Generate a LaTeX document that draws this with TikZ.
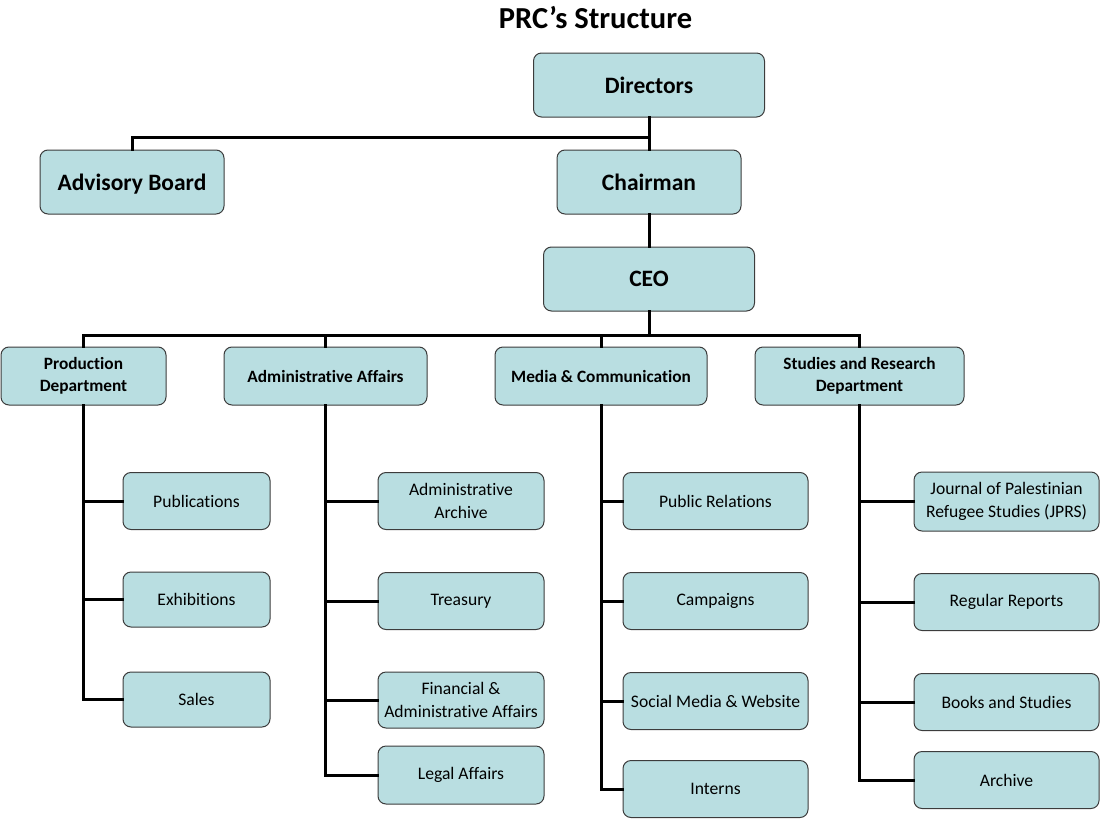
\documentclass[tikz,border=0pt]{standalone}
\usepackage{fontspec}
\setmainfont{Carlito}[Ligatures={NoCommon}]
\definecolor{boxfill}{RGB}{185,222,225}
\definecolor{boxline}{RGB}{60,60,60}
\begin{document}
\begin{tikzpicture}[x=1pt,y=-1pt,
  box/.style={draw=boxline,line width=1pt,fill=boxfill,rounded corners=8pt,
    align=center,inner sep=0pt,anchor=center},
  topbox/.style={box,font=\fontsize{23.5}{27}\selectfont\bfseries,text depth=0pt},
  deptbox/.style={box,font=\fontsize{17.3}{22.5}\selectfont\bfseries,minimum height=58pt},
  subbox/.style={box,font=\fontsize{17.6}{22.5}\selectfont,minimum height=57pt},
  conn/.style={line width=3pt,line cap=rect}]
\useasboundingbox (0,0) rectangle (1100,819);
\node[font=\fontsize{30.5}{34}\selectfont\bfseries] (title) at (595.5,18) {PRC’s Structure};
% top levels
\node[topbox,minimum width=231pt,minimum height=64pt] (dir) at (649,85) {Directors};
\node[topbox,minimum width=184pt,minimum height=64pt] (adv) at (132,182) {Advisory Board};
\node[topbox,minimum width=184pt,minimum height=64pt] (cha) at (649,182) {Chairman};
\node[topbox,minimum width=211pt,minimum height=64pt] (ceo) at (649,279) {CEO};
% departments
\node[deptbox,minimum width=165pt] (prod) at (83.5,376) {Production\\Department};
\node[deptbox,minimum width=203pt] (adm) at (325.5,376) {Administrative Affairs};
\node[deptbox,minimum width=212pt] (med) at (601,376) {Media \& Communication};
\node[deptbox,minimum width=209pt] (stu) at (859.5,376) {Studies and Research\\Department};
% production children
\node[subbox,minimum width=147pt] (pub) at (196.5,501) {Publications};
\node[subbox,minimum width=147pt,minimum height=55pt] (exh) at (196.5,599.5) {Exhibitions};
\node[subbox,minimum width=147pt,minimum height=55pt] (sal) at (196.5,699.5) {Sales};
% admin children
\node[subbox,minimum width=166pt] (aar) at (461,501) {Administrative\\Archive};
\node[subbox,minimum width=166pt] (tre) at (461,601) {Treasury};
\node[subbox,minimum width=166pt,minimum height=56pt] (fin) at (461,700) {Financial \&\\Administrative Affairs};
\node[subbox,minimum width=166pt,minimum height=58pt] (leg) at (461,775) {Legal Affairs};
% media children
\node[subbox,minimum width=185pt] (pr) at (715.5,501) {Public Relations};
\node[subbox,minimum width=185pt] (cam) at (715.5,601) {Campaigns};
\node[subbox,minimum width=185pt] (soc) at (715.5,701) {Social Media \& Website};
\node[subbox,minimum width=185pt] (int) at (715.5,789) {Interns};
% studies children
\node[subbox,minimum width=185pt,minimum height=59pt] (jprs) at (1006.5,501.5) {Journal of Palestinian\\Refugee Studies (JPRS)};
\node[subbox,minimum width=185pt] (reg) at (1006.5,602) {Regular Reports};
\node[subbox,minimum width=185pt] (boo) at (1006.5,702) {Books and Studies};
\node[subbox,minimum width=185pt] (arc) at (1006.5,780) {Archive};
% junctions
\coordinate (j1) at (649,137);
\coordinate (bus) at (649,335);
% connectors
\draw[conn] (dir.south) -- (cha.north);
\draw[conn] (j1) -| (adv.north);
\draw[conn] (cha.south) -- (ceo.north);
\draw[conn] (ceo.south) -- (bus);
\draw[conn] (bus) -| (prod.north);
\draw[conn] (bus) -| (stu.north);
\draw[conn] (adm.north |- bus) -- (adm.north);
\draw[conn] (med.north |- bus) -- (med.north);
% columns
\draw[conn] (prod.south) |- (sal.west);
\draw[conn] (prod.south |- pub.west) -- (pub.west);
\draw[conn] (prod.south |- exh.west) -- (exh.west);
\draw[conn] (adm.south) |- (leg.west);
\draw[conn] (adm.south |- aar.west) -- (aar.west);
\draw[conn] (adm.south |- tre.west) -- (tre.west);
\draw[conn] (adm.south |- fin.west) -- (fin.west);
\draw[conn] (med.south) |- (int.west);
\draw[conn] (med.south |- pr.west) -- (pr.west);
\draw[conn] (med.south |- cam.west) -- (cam.west);
\draw[conn] (med.south |- soc.west) -- (soc.west);
\draw[conn] (stu.south) |- (arc.west);
\draw[conn] (stu.south |- jprs.west) -- (jprs.west);
\draw[conn] (stu.south |- reg.west) -- (reg.west);
\draw[conn] (stu.south |- boo.west) -- (boo.west);
\end{tikzpicture}
\end{document}
